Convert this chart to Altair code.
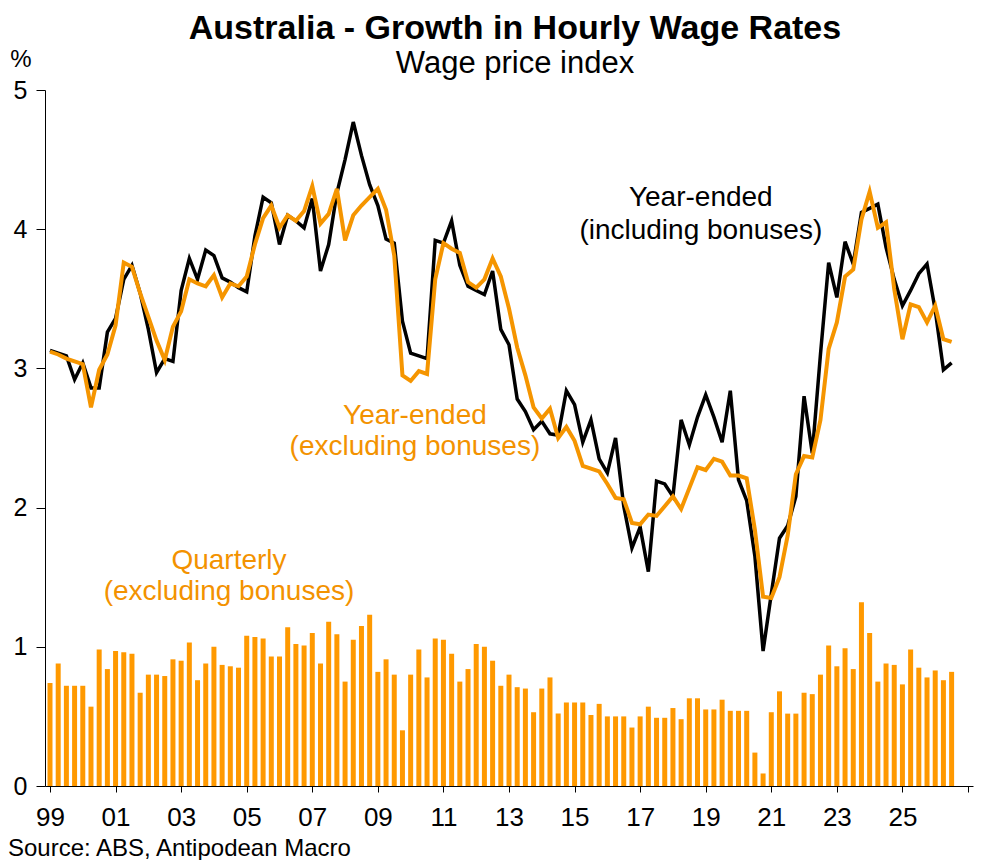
import altair as alt
import pandas as pd

# Quarterly observations, Mar-1999 ... Jun-2026 plotted at quarter positions (decimal years)
n_obs = 111
quarter_pos = [1999 + q / 4 for q in range(n_obs)]

quarterly_ex_bonus = [
    0.74, 0.88, 0.72, 0.72, 0.72, 0.57, 0.98, 0.84,
    0.97, 0.96, 0.95, 0.67, 0.80, 0.80, 0.79, 0.91,
    0.90, 1.03, 0.76, 0.88, 1.00, 0.87, 0.86, 0.85,
    1.08, 1.07, 1.06, 0.93, 0.93, 1.14, 1.02, 1.01,
    1.10, 0.88, 1.18, 1.09, 0.75, 1.05, 1.15, 1.23,
    0.82, 0.91, 0.80, 0.40, 0.80, 0.98, 0.78, 1.06,
    1.05, 0.95, 0.75, 0.84, 1.02, 1.00, 0.90, 0.72,
    0.80, 0.71, 0.70, 0.53, 0.70, 0.78, 0.52, 0.60,
    0.60, 0.60, 0.51, 0.59, 0.50, 0.50, 0.50, 0.42,
    0.50, 0.57, 0.49, 0.49, 0.56, 0.48, 0.63, 0.63,
    0.55, 0.55, 0.62, 0.54, 0.54, 0.54, 0.24, 0.09,
    0.53, 0.68, 0.52, 0.52, 0.67, 0.66, 0.80, 1.01,
    0.86, 0.99, 0.84, 1.32, 1.10, 0.75, 0.88, 0.87,
    0.73, 0.98, 0.85, 0.78, 0.83, 0.76, 0.82,
]

year_ended_incl = [
    3.13, 3.11, 3.09, 2.92, 3.04, 2.86, 2.86, 3.26,
    3.36, 3.64, 3.74, 3.54, 3.28, 2.97, 3.07, 3.05,
    3.56, 3.79, 3.64, 3.85, 3.81, 3.65, 3.62, 3.58,
    3.55, 3.95, 4.23, 4.19, 3.89, 4.10, 4.06, 4.01,
    4.22, 3.70, 3.89, 4.26, 4.50, 4.77, 4.53, 4.32,
    4.17, 3.93, 3.90, 3.34, 3.11, 3.09, 3.07, 3.92,
    3.90, 4.06, 3.74, 3.59, 3.56, 3.53, 3.70, 3.28,
    3.17, 2.78, 2.69, 2.56, 2.62, 2.53, 2.52, 2.84,
    2.74, 2.47, 2.63, 2.35, 2.25, 2.50, 2.01, 1.71,
    1.86, 1.54, 2.19, 2.17, 2.08, 2.63, 2.45, 2.65,
    2.81, 2.65, 2.47, 2.84, 2.20, 2.05, 1.65, 0.97,
    1.38, 1.78, 1.87, 2.08, 2.80, 2.39, 3.10, 3.76,
    3.51, 3.91, 3.75, 4.12, 4.15, 4.18, 3.87, 3.64,
    3.45, 3.56, 3.68, 3.75, 3.42, 2.99, 3.04,
]

year_ended_excl = [
    3.12, 3.10, 3.07, 3.05, 3.03, 2.72, 2.99, 3.10,
    3.31, 3.76, 3.73, 3.54, 3.37, 3.20, 3.06, 3.30,
    3.41, 3.64, 3.61, 3.59, 3.67, 3.51, 3.61, 3.59,
    3.66, 3.89, 4.08, 4.17, 4.01, 4.10, 4.06, 4.13,
    4.31, 4.04, 4.11, 4.29, 3.92, 4.10, 4.17, 4.23,
    4.29, 4.14, 3.81, 2.95, 2.91, 2.98, 2.96, 3.64,
    3.90, 3.86, 3.83, 3.62, 3.58, 3.64, 3.79, 3.66,
    3.43, 3.15, 2.95, 2.72, 2.64, 2.71, 2.50, 2.58,
    2.48, 2.30, 2.28, 2.26, 2.17, 2.07, 2.06, 1.89,
    1.88, 1.95, 1.94, 2.01, 2.08, 1.99, 2.14, 2.29,
    2.27, 2.35, 2.33, 2.23, 2.23, 2.21, 1.84, 1.36,
    1.35, 1.50, 1.80, 2.24, 2.37, 2.36, 2.63, 3.14,
    3.33, 3.66, 3.71, 4.07, 4.27, 4.01, 4.05, 3.57,
    3.21, 3.46, 3.44, 3.33, 3.45, 3.21, 3.19,
]

year_ticks = list(range(1999, 2028))
y_ticks = [0, 1, 2, 3, 4, 5]

ann_text = ["Year-ended", "(including bonuses)",
            "Year-ended", "(excluding bonuses)",
            "Quarterly", "(excluding bonuses)"]
ann_x = [2018.85, 2018.85, 2010.13, 2010.13, 2004.46, 2004.46]
ann_y = [4.17, 3.93, 2.60, 2.376, 1.557, 1.334]
ann_color = ["#000000", "#000000", "#F39200", "#F39200", "#F39200", "#F39200"]

ORANGE_BAR = "#FF9900"
ORANGE_LINE = "#F59500"
FONT = "Liberation Sans"

df = pd.DataFrame({
    "t": quarter_pos,
    "q": quarterly_ex_bonus,
    "incl": year_ended_incl,
    "excl": year_ended_excl,
})
ann = pd.DataFrame({"x": ann_x, "y": ann_y, "text": ann_text, "c": ann_color})

x_scale = alt.Scale(domain=[1999, 2027], nice=False, zero=False)
y_scale = alt.Scale(domain=[0, 5], nice=False, zero=True)

x_axis = alt.Axis(
    values=year_ticks,
    labelExpr="(datum.value % 2 == 1 && datum.value < 2027) ? substring(toString(datum.value), 2) : ''",
    labelOverlap=False, labelFlush=False,
    tickSize=6, tickColor="black", domainColor="black", domainWidth=1, tickWidth=1,
    labelFontSize=26, labelFont=FONT, labelColor="black", labelPadding=12,
    grid=False, title=None,
)
y_axis = alt.Axis(
    values=y_ticks, format="d", tickSize=9, tickColor="black", domainColor="black",
    domainWidth=1, tickWidth=1, labelOverlap=False, labelFlush=False,
    labelFontSize=25, labelFont=FONT, labelColor="black", labelPadding=9,
    grid=False, title=None,
)

base = alt.Chart(df)

bars = base.mark_bar(color=ORANGE_BAR, size=5).encode(
    x=alt.X("t:Q", scale=x_scale, axis=x_axis),
    y=alt.Y("q:Q", scale=y_scale, axis=y_axis),
)

line_incl = base.mark_line(color="black", strokeWidth=3.5).encode(
    x=alt.X("t:Q", scale=x_scale),
    y=alt.Y("incl:Q", scale=y_scale),
)

line_excl = base.mark_line(color=ORANGE_LINE, strokeWidth=4).encode(
    x=alt.X("t:Q", scale=x_scale),
    y=alt.Y("excl:Q", scale=y_scale),
)

labels = alt.Chart(ann).mark_text(
    align="center", baseline="alphabetic", fontSize=28, font=FONT
).encode(
    x=alt.X("x:Q", scale=x_scale),
    y=alt.Y("y:Q", scale=y_scale),
    text="text:N",
    color=alt.Color("c:N", scale=None),
)

title_df = pd.DataFrame({"text": ["Australia - Growth in Hourly Wage Rates"]})
subtitle_df = pd.DataFrame({"text": ["Wage price index"]})
pct_df = pd.DataFrame({"text": ["%"]})
source_df = pd.DataFrame({"text": ["Source: ABS, Antipodean Macro"]})

title = alt.Chart(title_df).mark_text(
    align="center", baseline="alphabetic", fontSize=34, fontWeight="bold", font=FONT, color="black"
).encode(x=alt.value(470), y=alt.value(-51), text="text:N")

subtitle = alt.Chart(subtitle_df).mark_text(
    align="center", baseline="alphabetic", fontSize=31, font=FONT, color="black"
).encode(x=alt.value(470), y=alt.value(-17), text="text:N")

pct = alt.Chart(pct_df).mark_text(
    align="center", baseline="alphabetic", fontSize=24, font=FONT, color="black"
).encode(x=alt.value(-24), y=alt.value(-23), text="text:N")

source = alt.Chart(source_df).mark_text(
    align="left", baseline="alphabetic", fontSize=24, font=FONT, color="black"
).encode(x=alt.value(-37), y=alt.value(766), text="text:N")

chart = alt.layer(
    bars, line_incl, line_excl, labels, title, subtitle, pct, source
).properties(
    width=928,
    height=696,
    autosize=alt.AutoSizeParams(type="none"),
    padding={"left": 37, "top": 82, "right": 22, "bottom": 74},
    background="white",
).configure_view(strokeWidth=0)

chart.save("out.html", embed_options={"renderer": "svg", "actions": False})
